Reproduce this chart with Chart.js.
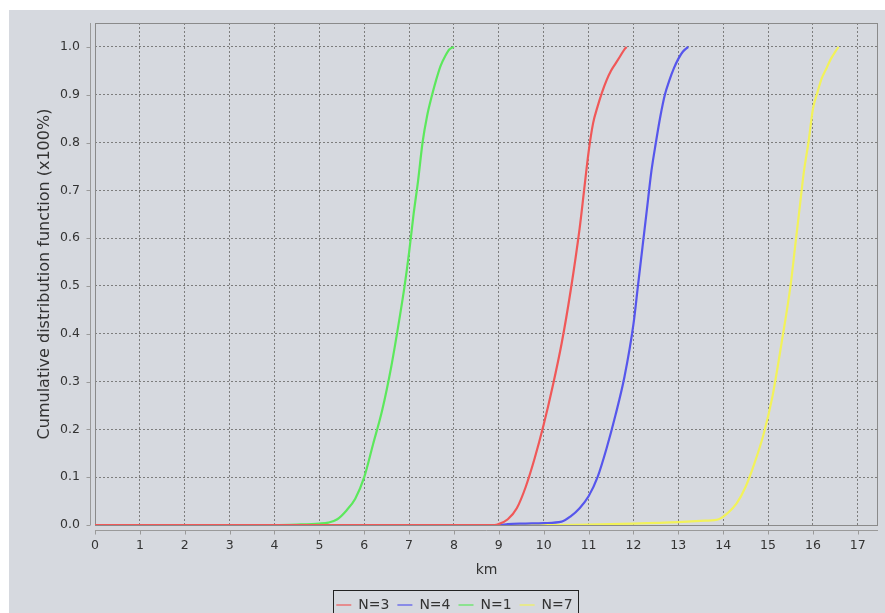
<!DOCTYPE html>
<html>
<head>
<meta charset="utf-8">
<script src="https://cdn.jsdelivr.net/npm/chart.js@4/dist/chart.umd.min.js"></script>
<style>
  html, body { margin: 0; padding: 0; background: #fff; overflow: hidden; }
  #wrap { position: absolute; left: 9px; top: 10px; width: 876px; height: 620px; background: #d6d9df; }
</style>
</head>
<body>
<div id="wrap"><canvas id="cdf"></canvas></div>
<script>
// series: km on x, CDF on y
const kmN3  = [0, 8.9, 9.0, 9.2, 9.4, 9.6, 9.8, 10.0, 10.2, 10.4, 10.6, 10.8, 10.9, 11.0, 11.1, 11.2, 11.3, 11.4, 11.5, 11.6, 11.7, 11.8, 11.85];
const cdfN3 = [0, 0, 0.002, 0.012, 0.035, 0.08, 0.14, 0.21, 0.29, 0.38, 0.49, 0.62, 0.7, 0.78, 0.84, 0.875, 0.905, 0.93, 0.95, 0.965, 0.98, 0.995, 1.0];

const kmN4  = [0, 9.0, 9.2, 9.6, 10.0, 10.4, 10.6, 10.8, 11.0, 11.2, 11.4, 11.6, 11.8, 12.0, 12.1, 12.2, 12.3, 12.4, 12.5, 12.6, 12.7, 12.8, 12.9, 13.0, 13.1, 13.22];
const cdfN4 = [0, 0, 0.002, 0.003, 0.004, 0.007, 0.018, 0.035, 0.06, 0.1, 0.16, 0.23, 0.31, 0.42, 0.5, 0.58, 0.66, 0.74, 0.8, 0.855, 0.9, 0.93, 0.955, 0.975, 0.99, 1.0];

const kmN1  = [0, 4.0, 4.5, 5.0, 5.2, 5.4, 5.6, 5.8, 6.0, 6.2, 6.4, 6.6, 6.8, 6.9, 7.0, 7.1, 7.2, 7.3, 7.4, 7.5, 7.6, 7.7, 7.8, 7.9, 8.0];
const cdfN1 = [0, 0, 0.001, 0.003, 0.005, 0.012, 0.03, 0.055, 0.1, 0.17, 0.24, 0.33, 0.44, 0.5, 0.57, 0.65, 0.72, 0.8, 0.855, 0.895, 0.93, 0.96, 0.98, 0.995, 1.0];

const kmN7  = [0, 10.0, 11.0, 12.0, 13.0, 13.6, 13.9, 14.1, 14.3, 14.5, 14.7, 14.9, 15.1, 15.3, 15.5, 15.6, 15.7, 15.8, 15.9, 16.0, 16.1, 16.2, 16.3, 16.4, 16.5, 16.57];
const cdfN7 = [0, 0, 0.001, 0.003, 0.006, 0.009, 0.012, 0.025, 0.045, 0.08, 0.13, 0.19, 0.27, 0.38, 0.5, 0.58, 0.66, 0.74, 0.8, 0.87, 0.905, 0.935, 0.955, 0.975, 0.99, 1.0];

const seriesNames  = ["N=3", "N=4", "N=1", "N=7"];
const seriesColors = ["#f05858", "#5656ec", "#5ce85c", "#f2f25a"];
const seriesKm  = [kmN3, kmN4, kmN1, kmN7];
const seriesCdf = [cdfN3, cdfN4, cdfN1, cdfN7];

const xTickValues = [0, 1, 2, 3, 4, 5, 6, 7, 8, 9, 10, 11, 12, 13, 14, 15, 16, 17];
const yTickValues = [0, 0.1, 0.2, 0.3, 0.4, 0.5, 0.6, 0.7, 0.8, 0.9, 1.0];
const xMax = 17.45;
const yMax = 1.05;

Chart.defaults.font.family = "'DejaVu Sans', sans-serif";
Chart.defaults.color = "#333";

const toPoints = (xs, ys) => xs.map((x, i) => ({ x, y: ys[i] }));

const datasets = seriesNames.map((name, i) => ({
  label: name,
  data: toPoints(seriesKm[i], seriesCdf[i]),
  borderColor: seriesColors[i],
  backgroundColor: seriesColors[i],
  borderWidth: 2.2,
  pointRadius: 0,
  cubicInterpolationMode: "monotone",
  fill: false,
}));

// plot outline, offset axis lines and the box round the legend
const frame = {
  id: "frame",
  beforeDatasetsDraw(chart) {
    const { ctx, chartArea: a } = chart;
    ctx.save();
    ctx.strokeStyle = "#8a8a8a";
    ctx.lineWidth = 1;
    ctx.strokeRect(Math.round(a.left) + 0.5, Math.round(a.top) + 0.5, Math.round(a.right - a.left) - 1, Math.round(a.bottom - a.top));
    ctx.restore();
  },
  afterDraw(chart) {
    const { ctx, chartArea: a, scales } = chart;
    ctx.save();
    ctx.strokeStyle = "#9a9a9a";
    ctx.lineWidth = 1;
    ctx.beginPath();
    const ax = Math.round(a.left) - 5 + 0.5;
    ctx.moveTo(ax, a.top); ctx.lineTo(ax, a.bottom);
    scales.y.ticks.forEach(t => {
      const py = Math.round(scales.y.getPixelForValue(t.value)) + 0.5;
      ctx.moveTo(ax - 4, py); ctx.lineTo(ax, py);
    });
    const ay = Math.round(a.bottom) + 5 + 0.5;
    ctx.moveTo(a.left, ay); ctx.lineTo(a.right, ay);
    scales.x.ticks.forEach(t => {
      const px = Math.round(scales.x.getPixelForValue(t.value)) + 0.5;
      ctx.moveTo(px, ay); ctx.lineTo(px, ay + 4);
    });
    ctx.stroke();

    const hb = chart.legend.legendHitBoxes;
    if (hb && hb.length) {
      const l = Math.min(...hb.map(h => h.left)) - 3;
      const r = Math.max(...hb.map(h => h.left + h.width)) + 6;
      const t = hb[0].top - 8;
      ctx.strokeStyle = "#222";
      ctx.strokeRect(Math.round(l) + 0.5, Math.round(t) + 0.5, Math.round(r - l), 40);
    }
    ctx.restore();
  }
};

new Chart(document.getElementById("cdf"), {
  type: "line",
  data: { datasets },
  plugins: [frame],
  options: {
    responsive: true,
    maintainAspectRatio: false,
    animation: false,
    layout: { padding: { top: 13, right: 7, bottom: 8, left: 22 } },
    plugins: {
      tooltip: { enabled: false },
      legend: {
        position: "bottom",
        labels: {
          usePointStyle: true,
          pointStyle: "line",
          pointStyleWidth: 15,
          padding: 8,
          color: "#333",
          font: { size: 14 },
          generateLabels(chart) {
            return Chart.defaults.plugins.legend.labels.generateLabels(chart)
              .map(item => ({ ...item, lineWidth: 1.2 }));
          }
        }
      }
    },
    scales: {
      x: {
        type: "linear",
        min: 0,
        max: xMax,
        afterFit: s => { s.height = 65; s.paddingLeft = 0; s.paddingRight = 0; },
        afterBuildTicks: s => { s.ticks = xTickValues.map(v => ({ value: v })); },
        ticks: { padding: 13, font: { size: 12.5 }, color: "#333", maxRotation: 0, autoSkip: false },
        grid: { color: "#7d7d7d", drawTicks: false, lineWidth: 1 },
        border: { display: false, dash: [2, 2] },
        title: { display: true, text: "km", font: { size: 14 }, color: "#333", padding: { top: 0, bottom: 11.5 } }
      },
      y: {
        min: 0,
        max: yMax,
        afterFit: s => { s.width = 64; s.paddingTop = 0; s.paddingBottom = 0; },
        afterBuildTicks: s => { s.ticks = yTickValues.map(v => ({ value: v })); },
        ticks: { padding: 15, font: { size: 12.5 }, color: "#333", autoSkip: false, callback: v => v.toFixed(1) },
        grid: { color: "#7d7d7d", drawTicks: false, lineWidth: 1 },
        border: { display: false, dash: [2, 2] },
        title: { display: true, text: "Cumulative distribution function (x100%)", font: { size: 16 }, color: "#333", padding: { top: 4.4, bottom: 0 } }
      }
    }
  }
});
</script>
</body>
</html>
